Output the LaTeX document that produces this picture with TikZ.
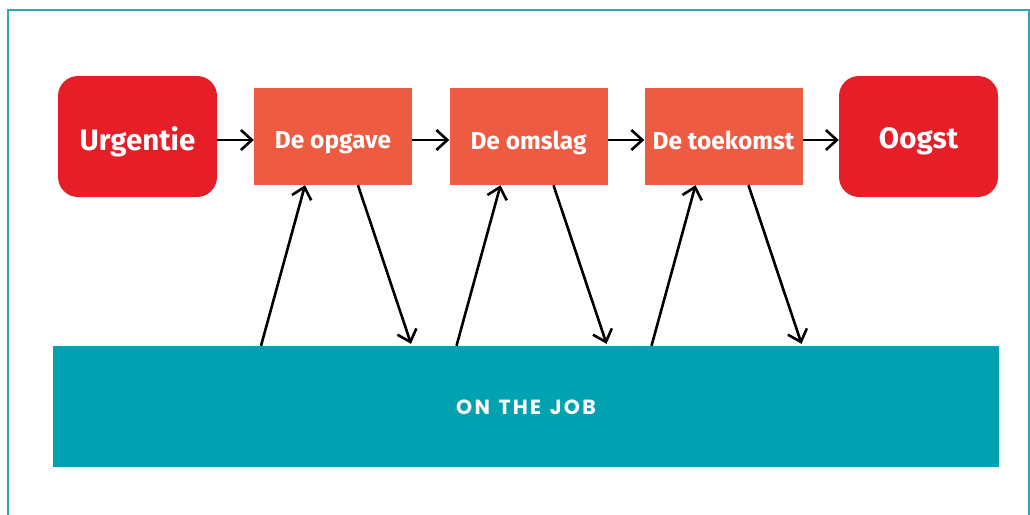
\documentclass[tikz,border=0pt]{standalone}
\usepackage{fontspec}
\setmainfont{Fira Sans}
\newfontfamily\boxfont{Fira Sans}[BoldFont={Fira Sans Bold}]
\newfontfamily\barfont{Poppins}[BoldFont={Poppins Bold},LetterSpace=11]
\usetikzlibrary{arrows.meta}
\definecolor{cred}{HTML}{E51E27}
\definecolor{corange}{HTML}{EC5B42}
\definecolor{cteal}{HTML}{00A1B0}
\definecolor{cborder}{HTML}{2BAAB5}
\newcommand{\lowr}[2]{\raisebox{-#1}[\height][\depth]{#2}}
\tikzset{
  redbox/.style={fill=cred, rounded corners=20pt, minimum width=159pt, minimum height=121pt,
    text=white, font=\boxfont\bfseries\fontsize{29.5}{32}\selectfont, inner sep=0pt},
  orbox/.style={fill=corange, minimum width=158pt, minimum height=97pt,
    text=white, font=\boxfont\bfseries\fontsize{24.5}{27}\selectfont, inner sep=0pt},
  barbox/.style={fill=cteal, minimum width=946pt, minimum height=121pt,
    text=white, font=\barfont\bfseries\fontsize{20.5}{22}\selectfont, inner sep=0pt},
  arr/.style={line width=2.6pt, -{Straight Barb[length=11pt,width=20pt,line width=2.6pt]}},
}
\begin{document}
\begin{tikzpicture}[x=1pt,y=-1pt]
\useasboundingbox (0,0) rectangle (1030,514);
\draw[cborder, line width=2pt] (7.5,9.5) rectangle (1029,540);
\node[redbox] (urg) at (137.5,136.5) {\lowr{5pt}{Urgentie}};
\node[orbox] (opg) at (333,136.5) {\lowr{6pt}{De opgave}};
\node[orbox] (oms) at (528.5,136.5) {\lowr{6pt}{De omslag}};
\node[orbox] (toe) at (723.5,136.5) {\lowr{4pt}{De toekomst}};
\node[redbox] (oog) at (918.5,136.5) {\lowr{5pt}{Oogst}};
\node[barbox] (bar) at (526,406.5) {\lowr{1pt}{ON\hspace{2pt} THE\hspace{2pt} JOB}};
\draw[arr] ([yshift=-3.5pt]urg.east) -- ([yshift=-3.5pt]opg.west);
\draw[arr] ([yshift=-3.5pt]opg.east) -- ([yshift=-3.5pt]oms.west);
\draw[arr] ([yshift=-3.5pt]oms.east) -- ([yshift=-3.5pt]toe.west);
\draw[arr] ([yshift=-3.5pt]toe.east) -- ([yshift=-3.5pt]oog.west);
\foreach \b in {opg,oms,toe}{
  \draw[arr] ([xshift=-72pt]\b.south |- bar.north) -- ([xshift=-28pt]\b.south);
  \draw[arr] ([xshift=25pt]\b.south) -- ([xshift=78pt,yshift=2pt]\b.south |- bar.north);
}
\end{tikzpicture}
\end{document}
